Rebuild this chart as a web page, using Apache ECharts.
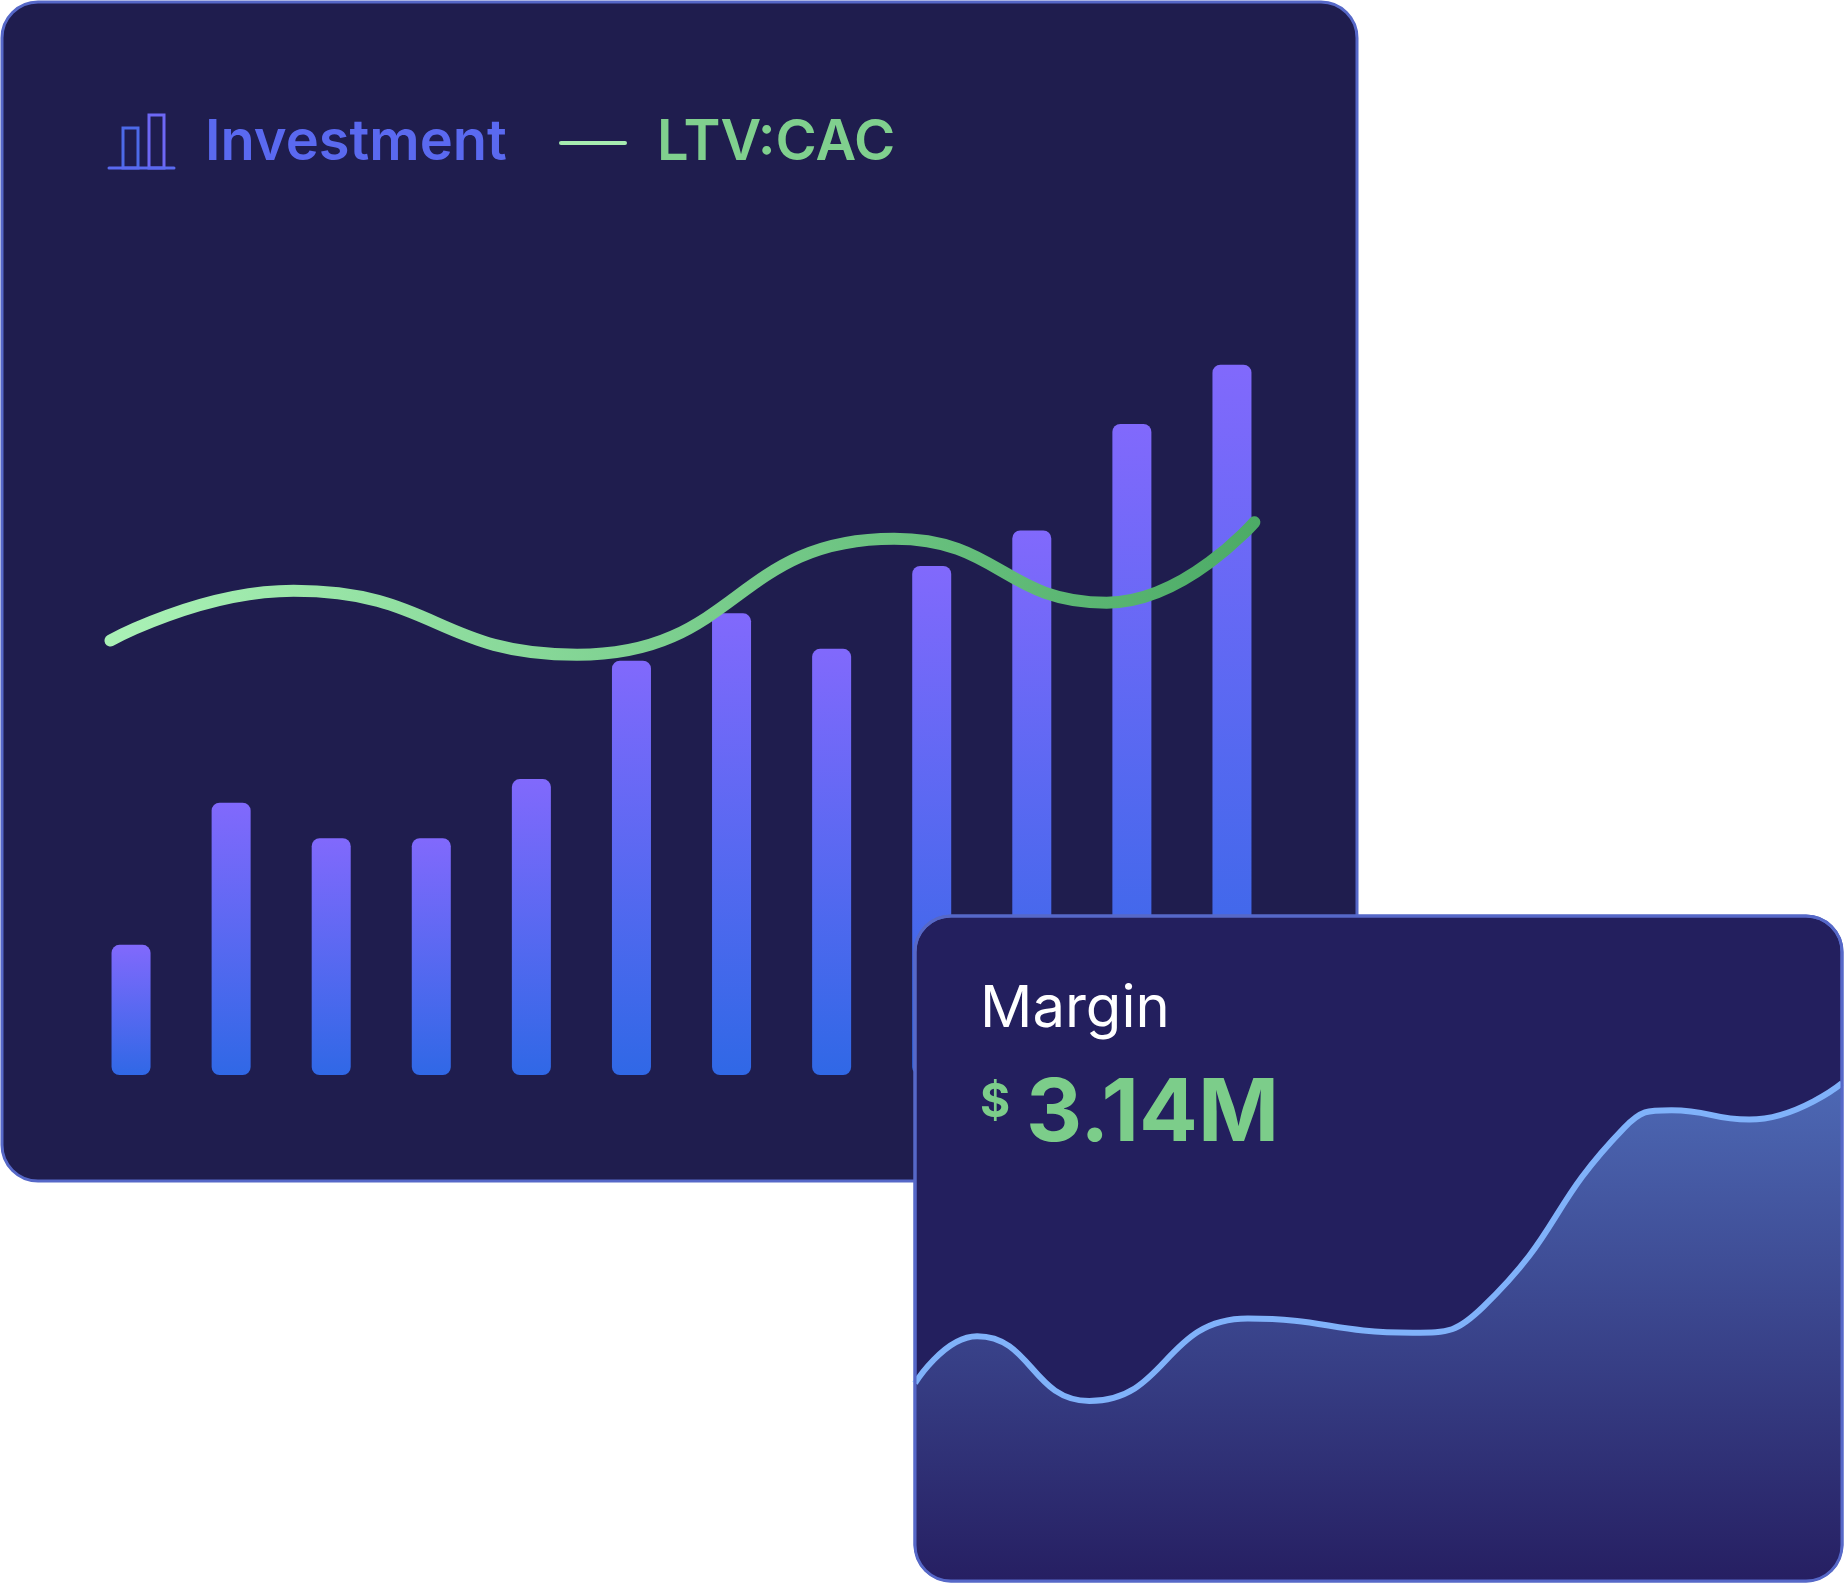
<!DOCTYPE html>
<html><head><meta charset="utf-8">
<script src="https://cdn.jsdelivr.net/npm/echarts@6/dist/echarts.min.js"></script>
<style>html,body{margin:0;background:#fff}#c{width:1846px;height:1585px}</style>
</head><body><div id="c"></div>
<script>
// investment bars (12 periods)
const periods = ['1','2','3','4','5','6','7','8','9','10','11','12']
const investment = [1.1, 2.3, 2.0, 2.0, 2.5, 3.5, 3.9, 3.6, 4.3, 4.6, 5.5, 6.0]
// LTV:CAC curve, position along the chart (0-100) and value
const ltvX = [2.45, 17.7, 41.3, 67.7, 85.4, 97.7]
const ltvY = [3.67, 4.09, 3.55, 4.53, 3.99, 4.67]
// margin curve
const marginX = [0, 6.7, 18.8, 35.9, 53.7, 61.3, 76.5, 81.6, 90, 100]
const marginY = [168, 208, 153, 223, 211, 233, 385, 400, 392, 423]

const chart = echarts.init(document.getElementById('c'))
const grad = (c0, c1, horiz) => new echarts.graphic.LinearGradient(0, 0, horiz ? 1 : 0, horiz ? 0 : 1, [
  { offset: 0, color: c0 }, { offset: 1, color: c1 }
])
const font = 'Inter, "Noto Sans", sans-serif'

// white mask for a rounded corner of the margin card (cx, cy = arc centre)
const cornerMask = (cx, cy, r, a0, ox, oy) => {
  const pts = [[ox, oy]]
  for (let i = 0; i <= 12; i++) {
    const a = a0 + (Math.PI / 2) * i / 12
    pts.push([cx + r * Math.cos(a), cy + r * Math.sin(a)])
  }
  return { type: 'polygon', z: 15, shape: { points: pts }, style: { fill: '#ffffff' } }
}

chart.setOption({
  animation: false,
  grid: [
    { left: 81, right: 1846 - 1282, top: 128, bottom: 1585 - 1075 },
    { left: 915, right: 4, top: 916, bottom: 4 }
  ],
  xAxis: [
    { type: 'category', data: periods, gridIndex: 0, show: false },
    { type: 'value', min: 0, max: 100, gridIndex: 0, show: false },
    { type: 'value', min: 0, max: 100, gridIndex: 1, show: false }
  ],
  yAxis: [
    { type: 'value', min: 0, max: 8, gridIndex: 0, show: false },
    { type: 'value', min: 0, max: 565, gridIndex: 1, show: false }
  ],
  graphic: [
    { type: 'rect', z: -10, shape: { x: 2, y: 2, width: 1355, height: 1179, r: 36 },
      style: { fill: '#1f1d4e', stroke: '#5668c8', lineWidth: 3 } },
    { type: 'rect', z: 5, shape: { x: 915, y: 916, width: 927, height: 665, r: 36 },
      style: { fill: '#231f5e', stroke: '#5668c8', lineWidth: 3 } },
    cornerMask(951, 1545, 37, Math.PI / 2, 912, 1584),
    cornerMask(1806, 1545, 37, 0, 1845, 1584),
    { type: 'rect', z: 16, shape: { x: 915, y: 916, width: 927, height: 665, r: 36 },
      style: { fill: 'none', stroke: '#5668c8', lineWidth: 3 } },
    // legend
    { type: 'rect', z: 1, shape: { x: 123, y: 128, width: 15, height: 40 }, style: { fill: 'none', stroke: '#4d6ae8', lineWidth: 3 } },
    { type: 'rect', z: 1, shape: { x: 149, y: 115, width: 15, height: 53 }, style: { fill: 'none', stroke: '#6e68f5', lineWidth: 3 } },
    { type: 'line', z: 1, shape: { x1: 109, y1: 168, x2: 174, y2: 168 }, style: { stroke: '#5a6af0', lineWidth: 3, lineCap: 'round' } },
    { type: 'text', z: 1, x: 205, y: 143, style: { text: 'Investment', font: '600 56px ' + font, fill: '#5a69f0', verticalAlign: 'middle' } },
    { type: 'line', z: 1, shape: { x1: 561, y1: 143, x2: 625, y2: 143 }, style: { stroke: '#a6ecb0', lineWidth: 4, lineCap: 'round' } },
    { type: 'text', z: 1, x: 657, y: 143, style: { text: 'LTV:CAC', font: '600 56px ' + font, fill: '#80d08e', verticalAlign: 'middle' } },
    // margin card texts
    { type: 'text', z: 12, x: 980, y: 981, style: { text: 'Margin', font: '400 58px ' + font, fill: '#ffffff', verticalAlign: 'top' } },
    { type: 'text', z: 12, x: 980, y: 1080, style: { text: '$', font: '700 46px ' + font, fill: '#7ccd8a', verticalAlign: 'top' } },
    { type: 'text', z: 12, x: 1026, y: 1071, style: { text: '3.14M', font: '700 87px ' + font, fill: '#7ccd8a', verticalAlign: 'top' } }
  ],
  series: [
    {
      type: 'bar', data: investment, xAxisIndex: 0, yAxisIndex: 0, z: 2,
      barWidth: 39,
      itemStyle: { color: grad('#8169fc', '#3068e6'), borderRadius: 8 }
    },
    {
      type: 'line', data: ltvX.map((x, i) => [x, ltvY[i]]), xAxisIndex: 1, yAxisIndex: 0, z: 3,
      smooth: 0.5, symbol: 'none',
      lineStyle: { width: 12, cap: 'round', color: grad('#aaf2b6', '#4cab66', true) }
    },
    {
      type: 'line', data: marginX.map((x, i) => [x, marginY[i]]), xAxisIndex: 2, yAxisIndex: 1, z: 10,
      smooth: 0.5, symbol: 'none',
      lineStyle: { width: 6, color: '#80b2fa' },
      areaStyle: { opacity: 1, origin: 'start', color: grad('#4d68b4', '#261f62') }
    }
  ]
})
</script></body></html>
